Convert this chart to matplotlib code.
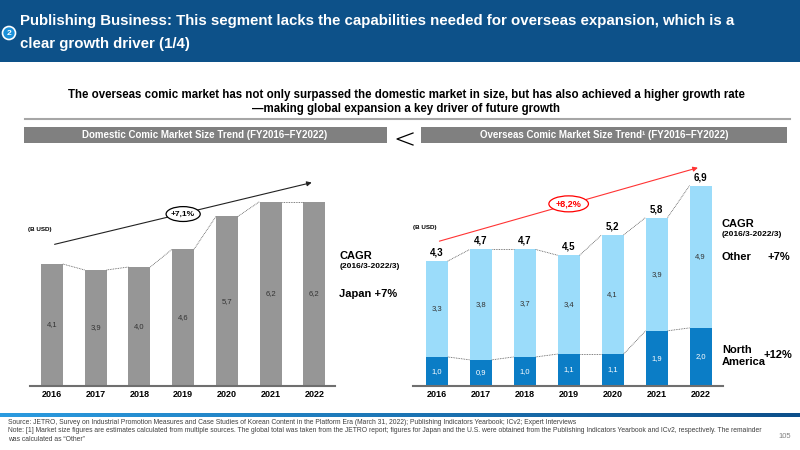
import matplotlib.pyplot as plt
import numpy as np
from matplotlib.patches import Ellipse, Circle, Rectangle
from matplotlib.colors import LinearSegmentedColormap

plt.rcParams['font.family'] = ['Liberation Sans', 'DejaVu Sans']

# data
years = ['2016', '2017', '2018', '2019', '2020', '2021', '2022']
japan = [4.1, 3.9, 4.0, 4.6, 5.7, 6.2, 6.2]
north_america = [1.0, 0.9, 1.0, 1.1, 1.1, 1.9, 2.0]
other = [3.3, 3.8, 3.7, 3.4, 4.1, 3.9, 4.9]
overseas_total = [4.3, 4.7, 4.7, 4.5, 5.2, 5.8, 6.9]

HEAD_BLUE = '#0d5189'
GREY_BAR = '#969696'
NA_BLUE = '#0b7dc6'
OTHER_BLUE = '#9bdcfa'


def fmt(v):
    return ('%.1f' % v).replace('.', ',')


fig = plt.figure(figsize=(8, 4.5), dpi=100)

# background axes in pixel units
bg = fig.add_axes([0, 0, 1, 1])
bg.set_xlim(0, 800)
bg.set_ylim(450, 0)
bg.axis('off')

# header band
bg.add_patch(Rectangle((0, 0), 800, 62, color=HEAD_BLUE, lw=0))
bg.add_patch(Circle((9, 33), 6.5, facecolor='#1a8fd8', edgecolor='white', lw=1.2))
bg.text(9, 33.5, '2', color='white', fontsize=6, fontweight='bold', ha='center', va='center')
bg.text(20, 21, 'Publishing Business: This segment lacks the capabilities needed for overseas expansion, which is a',
        color='white', fontsize=10.8, fontweight='bold', va='center')
bg.text(20, 44, 'clear growth driver (1/4)', color='white', fontsize=10.8, fontweight='bold', va='center')

# subtitle
bg.text(406, 95, 'The overseas comic market has not only surpassed the domestic market in size, but has also achieved a higher growth rate',
        fontsize=8.3, fontweight='bold', ha='center', va='center')
bg.text(406, 109, '\u2014making global expansion a key driver of future growth',
        fontsize=8.3, fontweight='bold', ha='center', va='center')
bg.plot([25, 790], [119, 119], color='#a6a6a6', lw=1.5)

# section headers
bg.add_patch(Rectangle((24, 127), 363, 16, color='#808080', lw=0))
bg.text(205, 135, 'Domestic Comic Market Size Trend (FY2016\u2013FY2022)', color='white', fontsize=7,
        fontweight='bold', ha='center', va='center')
bg.add_patch(Rectangle((421, 127), 366, 16, color='#808080', lw=0))
bg.text(604, 135, 'Overseas Comic Market Size Trend\u00b9 (FY2016\u2013FY2022)', color='white', fontsize=7,
        fontweight='bold', ha='center', va='center')
bg.plot([413, 397, 413], [133, 139, 145], color='black', lw=0.9)

# ---------------- left chart ----------------
x = np.arange(len(years))
w = 0.5
ax1 = fig.add_axes([30 / 800, (450 - 386) / 450, 305 / 800, 236 / 450])
ax1.set_xlim(-0.5, 6.47)
ax1.set_ylim(0, 236 / 29.75)
ax1.bar(x, japan, width=w, color=GREY_BAR, zorder=2)
for i, v in enumerate(japan):
    ax1.text(i, v / 2, fmt(v), ha='center', va='center', fontsize=5.5, color='#333333')
for i in range(len(years) - 1):
    ax1.plot([i + w / 2, i + 1 - w / 2], [japan[i], japan[i + 1]], ls=(0, (1, 1)), color='#555555', lw=0.6)
ax1.annotate('', xy=(6, 6.86), xytext=(0, 4.74),
             arrowprops=dict(arrowstyle='-|>', color='#222222', lw=0.8, mutation_scale=7))
ax1.add_patch(Ellipse((3, 5.78), 0.78, 0.5, facecolor='white', edgecolor='black', lw=0.9, zorder=5))
ax1.text(3, 5.78, '+7,1%', ha='center', va='center', fontsize=6, fontweight='bold', zorder=6)

# ---------------- right chart ----------------
ax2 = fig.add_axes([413 / 800, (450 - 386) / 450, 310 / 800, 236 / 450])
ax2.set_xlim(-0.54, 6.51)
ax2.set_ylim(0, 236 / 29.05)
ax2.bar(x, north_america, width=w, color=NA_BLUE, zorder=2)
ax2.bar(x, other, width=w, bottom=north_america, color=OTHER_BLUE, zorder=2)
for i in range(len(years)):
    ax2.text(i, north_america[i] / 2, fmt(north_america[i]), ha='center', va='center', fontsize=5.5, color='white')
    ax2.text(i, north_america[i] + other[i] / 2, fmt(other[i]), ha='center', va='center', fontsize=5.5, color='#333333')
    ax2.text(i, overseas_total[i] + 0.12, fmt(overseas_total[i]), ha='center', va='bottom', fontsize=7, fontweight='bold')
for i in range(len(years) - 1):
    ax2.plot([i + w / 2, i + 1 - w / 2], [overseas_total[i], overseas_total[i + 1]], ls=(0, (1, 1)), color='#555555', lw=0.6)
    ax2.plot([i + w / 2, i + 1 - w / 2], [north_america[i], north_america[i + 1]], ls=(0, (1, 1)), color='#555555', lw=0.6)
ax2.annotate('', xy=(6, 7.54), xytext=(0, 4.96),
             arrowprops=dict(arrowstyle='-|>', color='#ff3333', lw=0.8, mutation_scale=7))
ax2.add_patch(Ellipse((3, 6.27), 0.9, 0.55, facecolor='white', edgecolor='#ff0000', lw=0.9, zorder=5))
ax2.text(3, 6.27, '+8,2%', ha='center', va='center', fontsize=6.5, fontweight='bold', color='#ff0000', zorder=6)

for ax in (ax1, ax2):
    ax.patch.set_alpha(0)
    for s in ('top', 'right', 'left'):
        ax.spines[s].set_visible(False)
    ax.spines['bottom'].set_color('#6f6f6f')
    ax.spines['bottom'].set_linewidth(1.5)
    ax.set_yticks([])
    ax.set_xticks(x)
    ax.set_xticklabels(years, fontsize=6.5, fontweight='bold')
    ax.tick_params(axis='x', length=0, pad=3)

# side labels
bg.text(28, 230, '(B USD)', fontsize=4.5, fontweight='bold', va='center')
bg.text(413, 228, '(B USD)', fontsize=4.5, fontweight='bold', va='center')
bg.text(340, 256, 'CAGR', fontsize=8, fontweight='bold', va='center')
bg.text(340, 266, '(2016/3-2022/3)', fontsize=6, fontweight='bold', va='center')
bg.text(339, 294, 'Japan +7%', fontsize=8, fontweight='bold', va='center')
bg.text(722, 224, 'CAGR', fontsize=8, fontweight='bold', va='center')
bg.text(722, 234, '(2016/3-2022/3)', fontsize=6, fontweight='bold', va='center')
bg.text(721, 257, 'Other', fontsize=8, fontweight='bold', va='center')
bg.text(767, 257, '+7%', fontsize=8, fontweight='bold', va='center')
bg.text(722, 350, 'North', fontsize=8, fontweight='bold', va='center')
bg.text(722, 362, 'America', fontsize=8, fontweight='bold', va='center')
bg.text(763, 355, '+12%', fontsize=8, fontweight='bold', va='center')

# footer gradient line
grad = np.linspace(0, 1, 256).reshape(1, -1)
cmap = LinearSegmentedColormap.from_list('foot', ['#2b9be0', '#0d4f8a'])
bg.imshow(grad, extent=(0, 800, 417, 413.5), aspect='auto', cmap=cmap, zorder=1)
bg.set_xlim(0, 800)
bg.set_ylim(450, 0)

foot = dict(fontsize=4.9, color='#404040', va='center')
bg.text(8, 422, 'Source: JETRO, Survey on Industrial Promotion Measures and Case Studies of Korean Content in the Platform Era (March 31, 2022); Publishing Indicators Yearbook; ICv2; Expert Interviews', **foot)
bg.text(8, 431, 'Note: [1] Market size figures are estimates calculated from multiple sources. The global total was taken from the JETRO report; figures for Japan and the U.S. were obtained from the Publishing Indicators Yearbook and ICv2, respectively. The remainder', **foot)
bg.text(8, 439.5, 'was calculated as \u201cOther\u201d', **foot)
bg.text(785, 437, '105', fontsize=5.5, color='#808080', ha='center', va='center')

fig.savefig('out.png', dpi=100)
